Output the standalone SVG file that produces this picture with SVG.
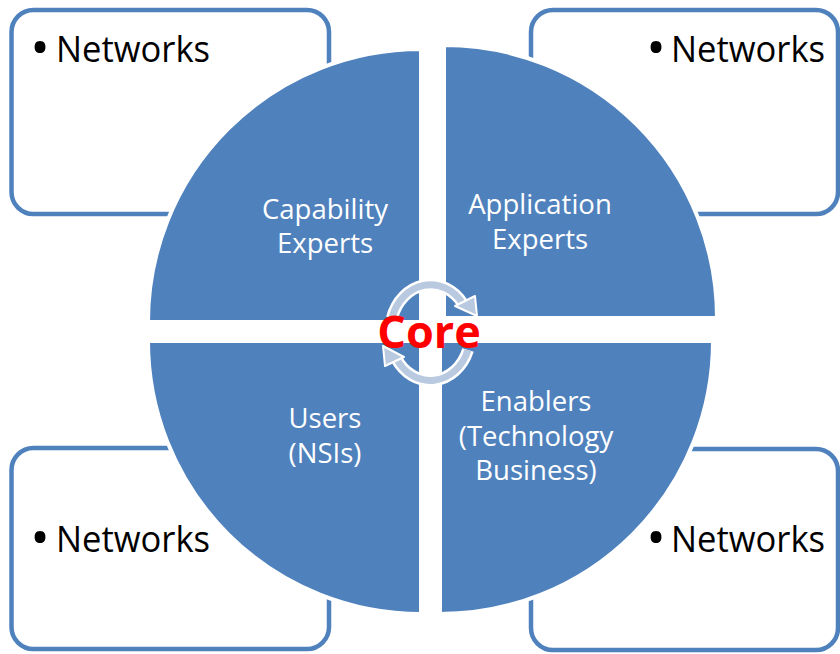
<svg xmlns="http://www.w3.org/2000/svg" width="840" height="654" viewBox="0 0 840 654">
<style>
.box{fill:#fff;stroke:#4F81BD;stroke-width:4.5}
.q{fill:#4F81BD;stroke:#fff;stroke-width:4}
.net{font-family:"Open Sans","Liberation Sans",sans-serif;font-size:36px;fill:#000}
.bul{font-family:"Open Sans","Liberation Sans",sans-serif;font-size:52px;fill:#000;text-anchor:middle}
.lbl{font-family:"Open Sans","Liberation Sans",sans-serif;font-size:27.5px;fill:#fff;text-anchor:middle}
.core{font-family:"Open Sans","Liberation Sans",sans-serif;font-size:45px;font-weight:bold;fill:#FF0000;text-anchor:middle}
.arcw{fill:none;stroke:#fff;stroke-width:12}
.arcb{fill:none;stroke:#B9C9E0;stroke-width:7}
.headw{fill:#B9C9E0;stroke:#fff;stroke-width:2;stroke-linejoin:round}
</style>
<rect width="840" height="654" fill="#fff"/>
<g id="box-tl"><rect class="box" x="11.5" y="10" width="317.5" height="204" rx="22"/><text class="bul" x="40" y="66">•</text><text class="net" x="56" y="62" textLength="154" lengthAdjust="spacingAndGlyphs">Networks</text></g>
<g id="box-tr"><rect class="box" x="531" y="10" width="307" height="204" rx="22"/><text class="bul" x="656" y="66">•</text><text class="net" x="671" y="62" textLength="154" lengthAdjust="spacingAndGlyphs">Networks</text></g>
<g id="box-bl"><rect class="box" x="11.5" y="448" width="317.5" height="201" rx="22"/><text class="bul" x="40" y="556">•</text><text class="net" x="56" y="552" textLength="154" lengthAdjust="spacingAndGlyphs">Networks</text></g>
<g id="box-br"><rect class="box" x="531" y="449" width="307" height="201" rx="22"/><text class="bul" x="656" y="556">•</text><text class="net" x="671" y="552" textLength="154" lengthAdjust="spacingAndGlyphs">Networks</text></g>
<g id="q-tl"><path class="q" d="M421,322 L148,322 A273,273 0 0 1 421,49 Z"/><text class="lbl"><tspan x="325" y="219">Capability</tspan><tspan x="325" y="253">Experts</tspan></text></g>
<g id="q-tr"><path class="q" d="M444,318 L444,45 A273,273 0 0 1 717,318 Z"/><text class="lbl"><tspan x="540" y="214">Application</tspan><tspan x="540" y="249">Experts</tspan></text></g>
<g id="q-bl"><path class="q" d="M421,341 L421,614 A273,273 0 0 1 148,341 Z"/><text class="lbl"><tspan x="325" y="428">Users</tspan><tspan x="325" y="463">(NSIs)</tspan></text></g>
<g id="q-br"><path class="q" d="M440,341 L713,341 A273,273 0 0 1 440,614 Z"/><text class="lbl"><tspan x="536" y="411">Enablers</tspan><tspan x="536" y="446">(Technology</tspan><tspan x="536" y="480">Business)</tspan></text></g>
<g id="core">
<path class="arcw" d="M392,318 A40,46 0 0 1 463,304"/>
<path class="arcw" d="M468,350 A40,46 0 0 1 396,358"/>
<path class="arcb" d="M392,318 A40,46 0 0 1 463,304"/>
<path class="arcb" d="M468,350 A40,46 0 0 1 396,358"/>
<polygon class="headw" points="455,306 475,296 477,316"/>
<polygon class="headw" points="404,357 385,366 383,346"/>
<text class="core" x="429" y="348">Core</text>
</g>
</svg>
